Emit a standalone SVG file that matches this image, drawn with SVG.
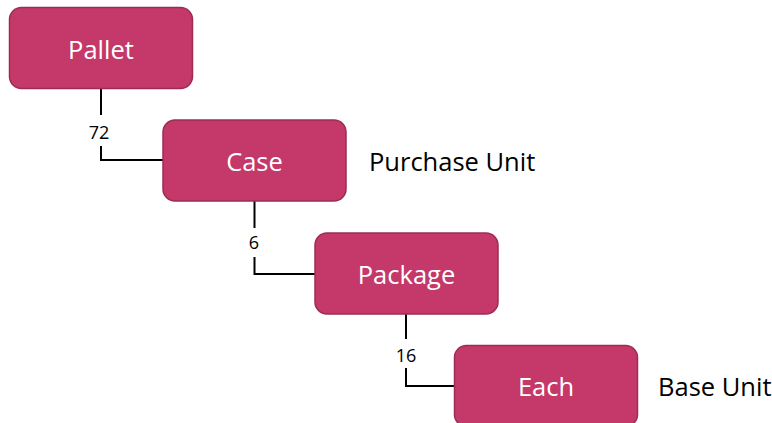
<svg xmlns="http://www.w3.org/2000/svg" width="772" height="423" viewBox="0 0 772 423">
<style>
.box{fill:#C4386A;stroke:#9C2C55;stroke-width:1.5}
.bl{font-family:"Open Sans","Liberation Sans",sans-serif;font-size:25.5px;fill:#ffffff;text-anchor:middle}
.ol{font-family:"Open Sans","Liberation Sans",sans-serif;font-size:25.5px;fill:#000000}
.num{font-family:"Open Sans","Liberation Sans",sans-serif;font-size:18px;fill:#000000;text-anchor:middle}
.conn{fill:none;stroke:#000000;stroke-width:2}
</style>
<rect width="772" height="423" fill="#ffffff"/>
<g id="connectors">
<path class="conn" d="M101,88 V115 M101,146 V160 H163"/>
<path class="conn" d="M254.5,201 V228 M254.5,257 V274 H315"/>
<path class="conn" d="M406,314 V339 M406,368 V386 H454"/>
<text class="num" x="99" y="139">72</text>
<text class="num" x="254" y="249">6</text>
<text class="num" x="406" y="362">16</text>
</g>
<g id="pallet">
<rect class="box" x="9.5" y="7.5" width="183" height="81" rx="12"/>
<text class="bl" x="101" y="59">Pallet</text>
</g>
<g id="case">
<rect class="box" x="163" y="120" width="183" height="81" rx="12"/>
<text class="bl" x="254.5" y="171">Case</text>
</g>
<g id="package">
<rect class="box" x="315" y="233" width="183" height="81" rx="12"/>
<text class="bl" x="406.5" y="284">Package</text>
</g>
<g id="each">
<rect class="box" x="454.5" y="345.5" width="183" height="81" rx="12"/>
<text class="bl" x="546" y="396">Each</text>
</g>
<g id="purchase-unit">
<text class="ol" x="369" y="171">Purchase Unit</text>
</g>
<g id="base-unit">
<text class="ol" x="658" y="396">Base Unit</text>
</g>
</svg>
